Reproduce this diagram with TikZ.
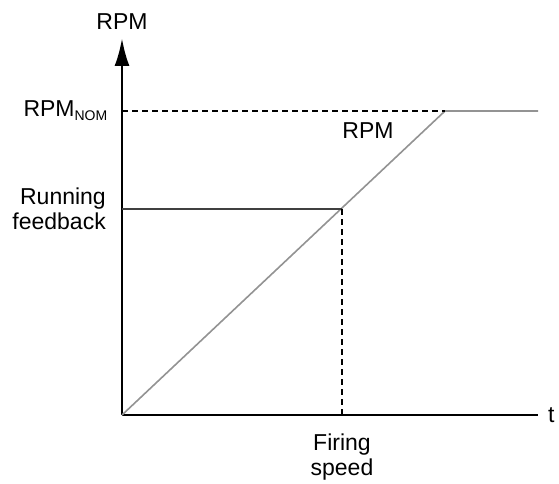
\documentclass[tikz,border=0pt]{standalone}
\usepackage{fontspec}
\setmainfont{Liberation Sans}
\usetikzlibrary{arrows.meta,positioning}

\begin{document}
\begin{tikzpicture}[x=1pt, y=-1pt, font=\fontsize{23}{25}\selectfont]
    \tikzstyle{axis}  = [line width=2.8pt, black]
    \tikzstyle{ramp}  = [line width=1.6pt, gray!85]
    \tikzstyle{guide} = [line width=1.2pt, dashed, dash pattern=on 6pt off 4pt]
    \tikzstyle{lbl}   = [inner sep=0pt, align=center]

    \useasboundingbox (0, 0) rectangle (559, 484);

    \coordinate (origin) at (122, 415);
    \coordinate (ytop)   at (122, 38);
    \coordinate (xend)   at (538, 415);
    \coordinate (nom)    at (122, 111);
    \coordinate (knee)   at (445, 111);
    \coordinate (flat)   at (538, 111);
    \coordinate (run)    at (122, 209);
    \coordinate (fire)   at (342, 209);
    \coordinate (firex)  at (342, 415);

    % axes
    \draw[axis, -{Latex[length=28pt, width=15pt]}] (origin) -- (ytop);
    \draw[axis] (origin) -- (xend);

    % curve
    \draw[ramp] (origin) -- (knee) -- (flat);

    % guide lines
    \draw[guide] (nom) -- (knee);
    \draw[line width=1.6pt, black!75] (run) -- (fire);
    \draw[guide] (fire) -- (firex);

    % labels
    \node[lbl, above=8pt of ytop]           (ylbl)  {RPM};
    \node[lbl, right=10pt of xend]          (xlbl)  {t};
    \node[lbl, left=14pt of nom]            (nomlbl) {RPM\textsubscript{\fontsize{14}{14}\selectfont NOM}};
    \node[lbl, left=16pt of run, align=right] (runlbl) {Running\\feedback};
    \node[lbl, below=19pt of firex]         (firelbl) {Firing\\speed};
    \node[lbl] (curvelbl) at (368, 131) {RPM};
\end{tikzpicture}
\end{document}
